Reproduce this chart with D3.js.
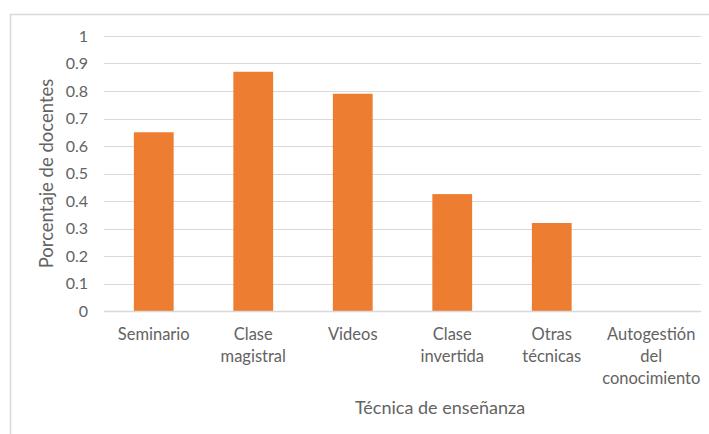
<!DOCTYPE html>
<html>
<head>
<meta charset="utf-8">
<script src="https://cdn.jsdelivr.net/npm/d3@7/dist/d3.min.js"></script>
<style>
  html, body { margin: 0; padding: 0; background: #fff; }
  svg { display: block; }
  text { font-family: Lato, "Open Sans", sans-serif; fill: #636363; }
</style>
</head>
<body>
<svg id="chart" width="709" height="434"></svg>
<script>
// Share of teachers using each teaching technique
const categories = [
  ["Seminario"],
  ["Clase", "magistral"],
  ["Videos"],
  ["Clase", "invertida"],
  ["Otras", "técnicas"],
  ["Autogestión", "del", "conocimiento"]
];
const values = [0.65, 0.87, 0.79, 0.425, 0.32, 0];
const yTicks = [0, 0.1, 0.2, 0.3, 0.4, 0.5, 0.6, 0.7, 0.8, 0.9, 1];
const yTitle = "Porcentaje de docentes";
const xTitle = "Técnica de enseñanza";

const svg = d3.select("#chart");
const W = 709, H = 434;
const plot = { left: 104, right: 701, top: 36, bottom: 311 };
const textColor = "#636363";

// chart area frame
svg.append("rect")
  .attr("x", 10.5).attr("y", 14.5)
  .attr("width", W + 10).attr("height", H + 10)
  .attr("fill", "#fff").attr("stroke", "#d9d9d9").attr("stroke-width", 1.5);

const x = d3.scaleBand()
  .domain(d3.range(categories.length))
  .range([plot.left, plot.right])
  .paddingInner(0.6).paddingOuter(0.3);

const y = d3.scaleLinear().domain([0, 1]).range([plot.bottom, plot.top]);

// horizontal gridlines
svg.append("g")
  .selectAll("line")
  .data(yTicks.filter(t => t > 0))
  .join("line")
  .attr("x1", plot.left).attr("x2", plot.right)
  .attr("y1", d => Math.round(y(d)) + 0.5).attr("y2", d => Math.round(y(d)) + 0.5)
  .attr("stroke", "#d9d9d9").attr("stroke-width", 1);

// y-axis tick labels
const yAxis = d3.axisLeft(y).tickValues(yTicks).tickSize(0).tickPadding(0)
  .tickFormat(d => d3.format("~g")(d));
const gy = svg.append("g").attr("transform", `translate(${88},0)`).call(yAxis);
gy.select(".domain").remove();
gy.selectAll("text")
  .style("font-size", "16px")
  .style("font-family", "Lato, 'Open Sans', sans-serif")
  .attr("fill", textColor);

// bars
svg.append("g")
  .selectAll("rect")
  .data(values)
  .join("rect")
  .attr("x", (d, i) => x(i))
  .attr("y", d => y(d))
  .attr("width", x.bandwidth())
  .attr("height", d => y(0) - y(d))
  .attr("fill", "#ed7d31");

// baseline
svg.append("line")
  .attr("x1", plot.left).attr("x2", plot.right)
  .attr("y1", plot.bottom + 0.5).attr("y2", plot.bottom + 0.5)
  .attr("stroke", "#d9d9d9").attr("stroke-width", 1.5);

// category labels
const labels = svg.append("g")
  .selectAll("text")
  .data(categories)
  .join("text")
  .attr("text-anchor", "middle")
  .attr("x", (d, i) => x(i) + x.bandwidth() / 2)
  .attr("y", 340)
  .style("font-size", "16.5px");
labels.selectAll("tspan")
  .data(d => d)
  .join("tspan")
  .attr("x", function () { return this.parentNode.getAttribute("x"); })
  .attr("dy", (d, i) => i === 0 ? 0 : 22)
  .text(d => d);

// axis titles
svg.append("text")
  .attr("x", 440).attr("y", 414)
  .attr("text-anchor", "middle")
  .style("font-size", "18px")
  .text(xTitle);

svg.append("text")
  .attr("transform", `translate(53,${(plot.top + plot.bottom) / 2}) rotate(-90)`)
  .attr("text-anchor", "middle")
  .style("font-size", "18.5px")
  .text(yTitle);
</script>
</body>
</html>
